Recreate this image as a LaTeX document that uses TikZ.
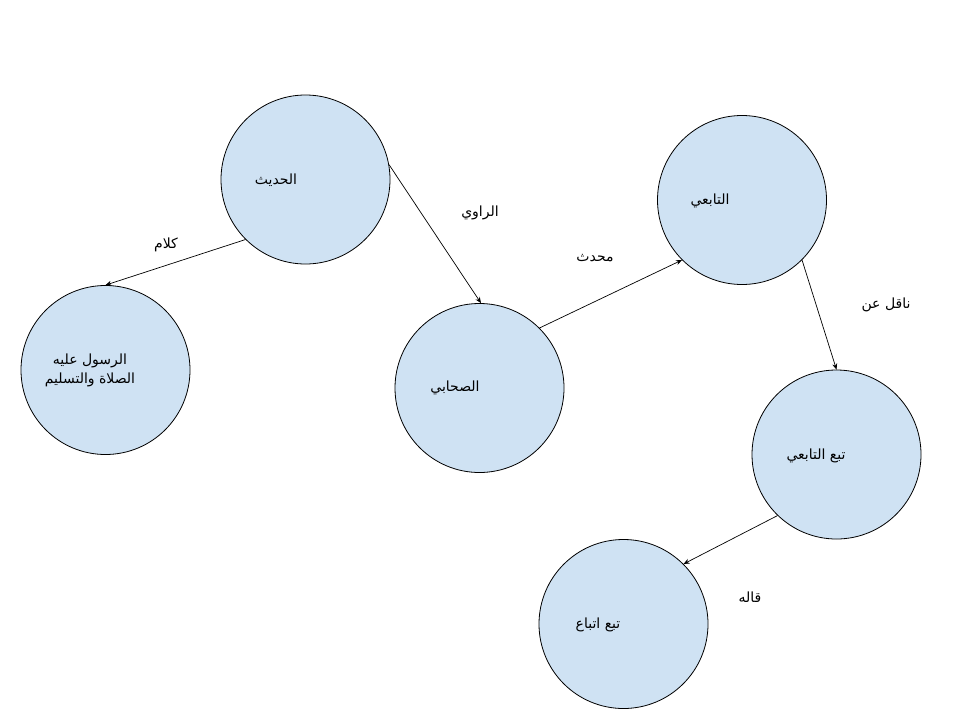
\documentclass[tikz,border=0pt]{standalone}
\usepackage{fontspec}
\usetikzlibrary{arrows.meta}
\TeXXeTstate=1
\newfontfamily\arabicfont[Script=Arabic]{DejaVu Sans}
\definecolor{bubble}{RGB}{207,226,243}
\begin{document}
\begin{tikzpicture}[x=1pt,y=-1pt,
  bubblenode/.style={circle,draw=black,line width=0.8pt,fill=bubble,minimum size=169pt,inner sep=0pt},
  txt/.style={font=\arabicfont\fontsize{14}{19}\selectfont,inner sep=0pt,align=center},
  link/.style={draw=black,line width=0.7pt,-{Stealth[length=6pt,width=5pt]}}]
\useasboundingbox[fill=white] (0,0) rectangle (960,720);
% circles
\node[bubblenode] (c1) at (305.5,179.5) {};
\node[bubblenode] (c2) at (105.5,370) {};
\node[bubblenode] (c3) at (479.5,388) {};
\node[bubblenode] (c4) at (742,200) {};
\node[bubblenode] (c5) at (836.5,454.5) {};
\node[bubblenode] (c6) at (623.5,624) {};
% texts inside circles
\node[txt] (t1) at (276,180) {\beginR الحديث\endR};
\node[txt] (t2) at (90,370) {\beginR الرسول عليه\endR\\\beginR الصلاة والتسليم\endR};
\node[txt] (t3) at (455,388) {\beginR الصحابي\endR};
\node[txt] (t4) at (710,201) {\beginR التابعي\endR};
\node[txt] (t5) at (816,456) {\beginR تبع التابعي\endR};
\node[txt] (t6) at (598,625) {\beginR تبع اتباع\endR};
% connectors
\draw[link] (c1.225) -- (c2.90);
\draw[link] (c1.10) -- (c3.89);
\draw[link] (c3.45) -- (c4.225);
\draw[link] (c4.315) -- (c5.90);
\draw[link] (c5.226) -- (c6.45);
% connector labels
\node[txt] (l1) at (166,245) {\beginR كلام\endR};
\node[txt] (l2) at (480,213) {\beginR الراوي\endR};
\node[txt] (l3) at (595,258) {\beginR محدث\endR};
\node[txt] (l4) at (886,305) {\beginR ناقل عن\endR};
\node[txt] (l5) at (750,597) {\beginR قاله\endR};
\end{tikzpicture}
\end{document}
